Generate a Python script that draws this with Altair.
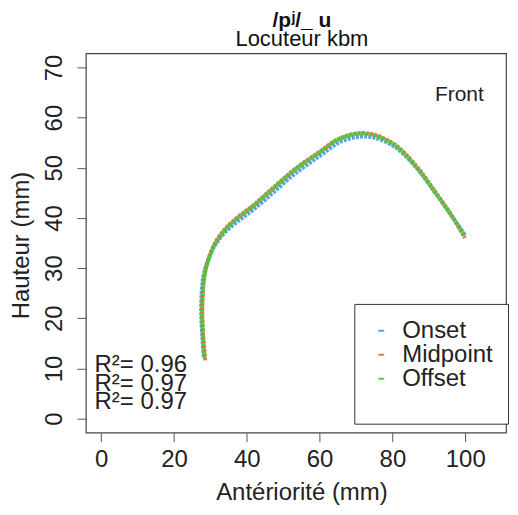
import altair as alt
import pandas as pd

FONT = "Liberation Sans"

series_names = ["Onset", "Midpoint", "Offset"]
series_colors = ["#4a97e0", "#e8663c", "#3fcf3f"]

onset_x = [28.2, 27.8, 27.5, 27.6, 28.1, 29.2, 31.2, 34.0, 37.6, 41.7, 47.3, 53.7, 60.1, 65.5, 71.0, 75.5, 81.0, 86.5, 92.0, 96.5, 99.9]
onset_y = [12.3, 16.1, 20.5, 25.0, 28.4, 31.3, 34.5, 37.1, 39.4, 41.6, 45.1, 49.1, 52.4, 55.1, 56.2, 55.9, 54.0, 50.1, 44.8, 40.2, 36.6]

midpoint_x = [28.6, 28.1, 27.8, 27.9, 28.4, 29.4, 31.2, 33.9, 37.4, 41.4, 46.9, 53.3, 59.8, 65.3, 70.9, 75.4, 80.9, 86.4, 91.9, 96.4, 99.9]
midpoint_y = [11.6, 16.0, 20.5, 25.0, 28.6, 31.6, 34.9, 37.7, 40.1, 42.3, 45.8, 49.8, 53.1, 55.8, 56.9, 56.5, 54.5, 50.5, 45.1, 40.3, 36.0]

offset_x = [28.4, 28.0, 27.7, 27.9, 28.4, 29.4, 31.3, 34.0, 37.5, 41.5, 47.0, 53.4, 59.8, 65.3, 70.8, 75.3, 80.8, 86.3, 91.8, 96.3, 99.8]
offset_y = [12.0, 16.0, 20.5, 25.0, 28.5, 31.5, 34.8, 37.6, 40.0, 42.2, 45.7, 49.7, 53.0, 55.7, 56.8, 56.4, 54.4, 50.4, 45.0, 40.4, 36.4]

x_ticks = [0, 20, 40, 60, 80, 100]
y_ticks = [0, 10, 20, 30, 40, 50, 60, 70]

r2_labels = ["R²= 0.96", "R²= 0.97", "R²= 0.97"]
r2_y = [10.6, 6.9, 3.3]
r2_x = -1.8

front_label = "Front"

rows = []
for name, xs, ys in [("Onset", onset_x, onset_y), ("Midpoint", midpoint_x, midpoint_y), ("Offset", offset_x, offset_y)]:
    for i, (xv, yv) in enumerate(zip(xs, ys)):
        rows.append({"series": name, "idx": i, "x": xv, "y": yv})
df = pd.DataFrame(rows)

r2_df = pd.DataFrame({"label": r2_labels, "x": [r2_x] * 3, "y": r2_y})
front_df = pd.DataFrame({"label": [front_label], "x": [98.4], "y": [64.5]})

x_scale = alt.Scale(domain=[-4.2, 111.2], nice=False, zero=False)
y_scale = alt.Scale(domain=[-2.8, 72.8], nice=False, zero=False)
color_scale = alt.Scale(domain=series_names, range=series_colors)

x_axis = alt.Axis(
    values=x_ticks, title="Antériorité (mm)", grid=False, domain=False,
    tickSize=9, tickColor="#555", tickWidth=1,
    labelFontSize=24, labelFont=FONT, labelColor="#222", labelBaseline="alphabetic",
    labelPadding=25, labelFlush=False, labelOverlap=False,
    titleFontSize=24, titleFont=FONT, titleFontWeight="normal", titleColor="#222",
    titleBaseline="alphabetic", titleX=216, titleY=67,
)
y_axis = alt.Axis(
    values=y_ticks, title="Hauteur (mm)", grid=False, domain=False,
    tickSize=9, tickColor="#555", tickWidth=1,
    labelFontSize=24, labelFont=FONT, labelColor="#222", labelAngle=270,
    labelAlign="center", labelBaseline="alphabetic", labelPadding=15,
    labelFlush=False, labelOverlap=False,
    titleFontSize=24, titleFont=FONT, titleFontWeight="normal", titleColor="#222",
    titleBaseline="alphabetic", titleX=-57, titleY=192, titleAngle=270,
)

legend = alt.Legend(
    title=" ", titleOrient="bottom", titleFontSize=14, titlePadding=4,
    orient="none", legendX=269, legendY=251,
    strokeColor="#333", fillColor="white", padding=15,
    labelFontSize=24, labelFont=FONT, labelColor="#222",
    symbolType="stroke", symbolSize=36, symbolStrokeWidth=2, symbolDash=[1, 0],
    labelOffset=9, rowPadding=0,
)

base = alt.Chart(df)


def series_layer(name):
    return base.transform_filter(alt.datum.series == name).mark_line(
        strokeWidth=4, strokeDash=[3, 1.2], interpolate="catmull-rom", opacity=0.9
    ).encode(
        x=alt.X("x:Q", scale=x_scale, axis=x_axis),
        y=alt.Y("y:Q", scale=y_scale, axis=y_axis),
        color=alt.Color("series:N", scale=color_scale, legend=legend),
        order=alt.Order("idx:Q"),
    )


layers = [series_layer("Onset"), series_layer("Midpoint"), series_layer("Offset")]

r2_text = alt.Chart(r2_df).mark_text(
    align="left", baseline="middle", fontSize=24, font=FONT, color="#222"
).encode(x=alt.X("x:Q", scale=x_scale, axis=x_axis), y=alt.Y("y:Q", scale=y_scale, axis=y_axis), text="label:N")

front_text = alt.Chart(front_df).mark_text(
    align="center", baseline="middle", fontSize=21, font=FONT, color="#222"
).encode(x=alt.X("x:Q", scale=x_scale, axis=x_axis), y=alt.Y("y:Q", scale=y_scale, axis=y_axis), text="label:N")

chart = alt.layer(*layers, r2_text, front_text).properties(
    width=421, height=380,
    background="white",
    autosize=alt.AutoSizeParams(type="none"),
    padding={"left": 78, "top": 45, "right": 4, "bottom": 82},
    title=alt.TitleParams(
        text="/pʲ/_ u", subtitle="Locuteur kbm",
        fontSize=21, font=FONT, fontWeight="bold", color="#111",
        subtitleFontSize=22, subtitleFont=FONT, subtitleColor="#111",
        subtitlePadding=-2, anchor="middle", offset=3, dx=6,
    ),
).configure_view(stroke="#444", strokeWidth=1.2)

chart.save("out.html", embed_options={"renderer": "svg", "actions": False})
